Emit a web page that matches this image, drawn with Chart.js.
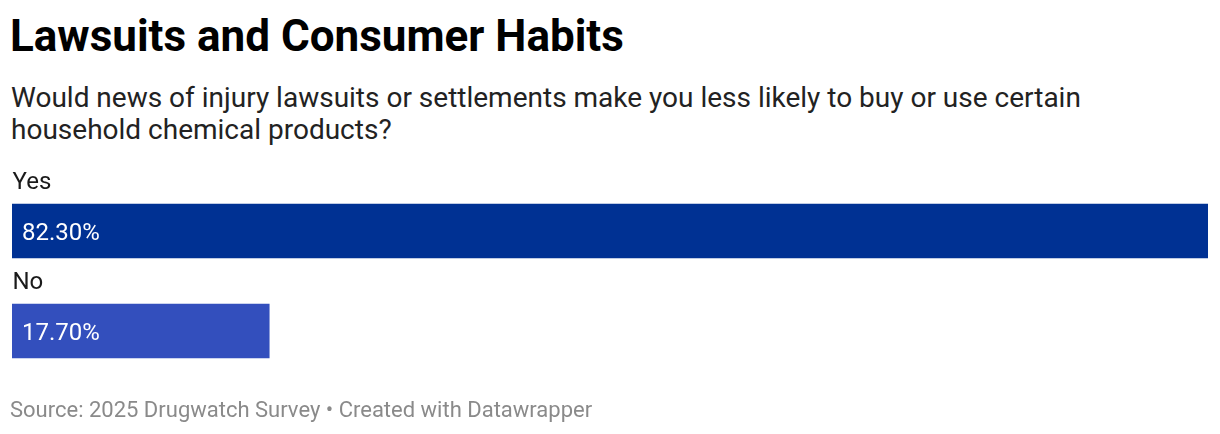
<!DOCTYPE html>
<html>
<head>
<meta charset="utf-8">
<script src="https://cdn.jsdelivr.net/npm/chart.js@4"></script>
<style>
  body { margin: 0; background: #fff; font-family: Roboto, sans-serif; width: 1220px; height: 434px; overflow: hidden; position: relative; }
  h1 { position: absolute; left: 10px; top: 12px; margin: 0; font-size: 44px; font-weight: 700; color: #000; line-height: 48px; white-space: nowrap; }
  .sub { position: absolute; left: 11px; top: 82px; margin: 0; font-size: 28px; line-height: 31.5px; color: #222; width: 1150px; }
  .chart { position: absolute; left: 0; top: 150px; width: 1220px; height: 250px; }
  .foot { position: absolute; left: 10px; top: 397px; font-size: 22px; line-height: 26px; color: #8a8a8a; white-space: nowrap; }
</style>
</head>
<body>
<h1>Lawsuits and Consumer Habits</h1>
<p class="sub">Would news of injury lawsuits or settlements make you less likely to buy or use certain household chemical products?</p>
<div class="chart"><canvas id="bars"></canvas></div>
<div class="foot">Source: 2025 Drugwatch Survey • Created with Datawrapper</div>
<script>
const categories = ['Yes', 'No'];
const shares = [82.3, 17.7];
const barColors = ['#003193', '#334fbd'];

// labels above each bar and values inside, Datawrapper style
const barText = {
  id: 'barText',
  afterDatasetsDraw(chart) {
    const ctx = chart.ctx;
    const meta = chart.getDatasetMeta(0);
    ctx.save();
    ctx.textBaseline = 'alphabetic';
    meta.data.forEach((bar, i) => {
      const top = bar.y - bar.height / 2;
      ctx.font = '24px Roboto';
      ctx.fillStyle = '#1a1a1a';
      ctx.textAlign = 'left';
      ctx.fillText(categories[i], bar.base + 0.5, top - 15);
      ctx.fillStyle = '#fff';
      ctx.fillText(shares[i].toFixed(2) + '%', bar.base + 10, bar.y + 8.5);
    });
    ctx.restore();
  }
};

new Chart(document.getElementById('bars'), {
  type: 'bar',
  data: {
    labels: categories,
    datasets: [{
      data: shares,
      backgroundColor: barColors,
      barThickness: 54,
      borderWidth: 0
    }]
  },
  options: {
    indexAxis: 'y',
    responsive: true,
    maintainAspectRatio: false,
    animation: false,
    layout: { padding: { left: 12, right: 12, top: 31, bottom: 19 } },
    plugins: { legend: { display: false }, tooltip: { enabled: false } },
    scales: {
      x: { display: false, min: 0, max: 82.3 },
      y: { display: false }
    }
  },
  plugins: [barText]
});
</script>
</body>
</html>
